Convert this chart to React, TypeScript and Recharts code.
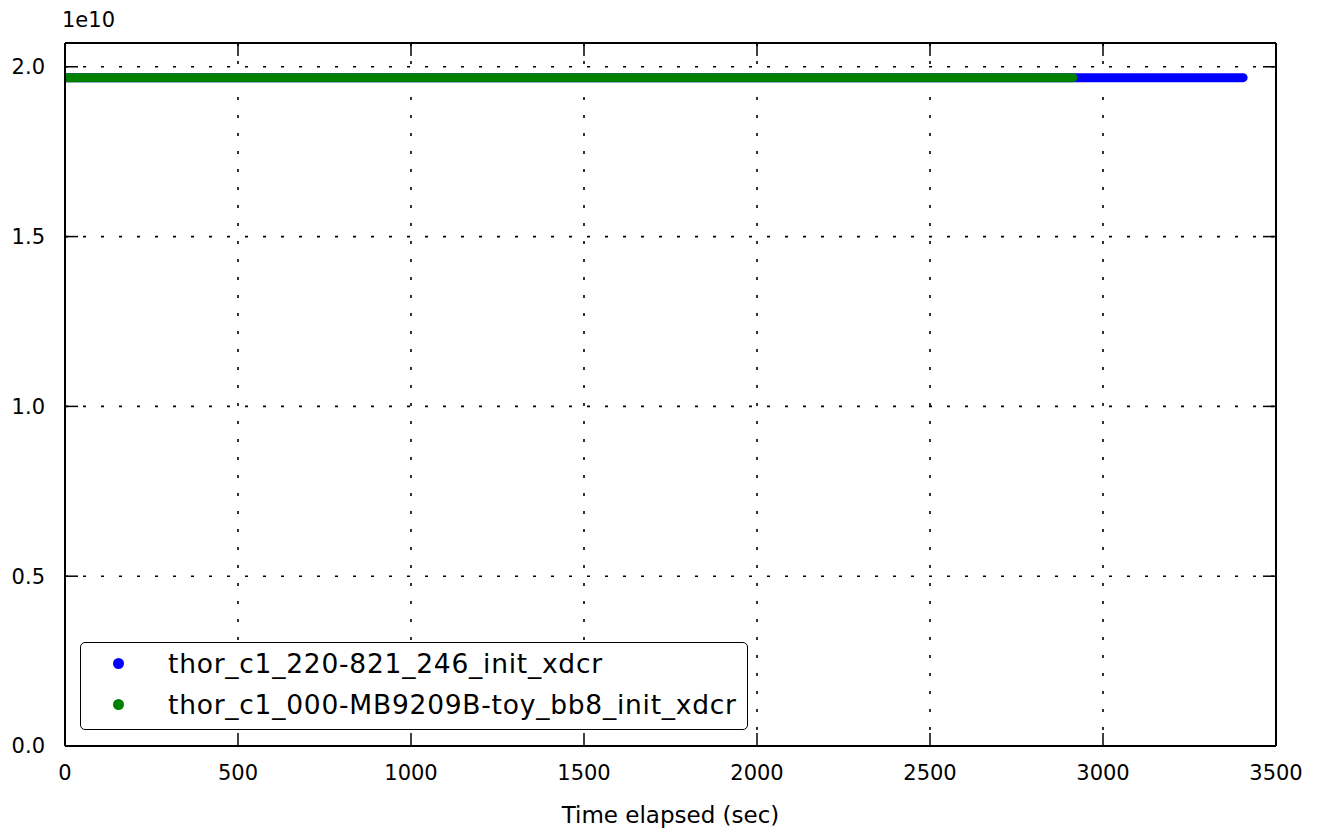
import React from "react"
import {
  LineChart,
  Line,
  XAxis,
  YAxis,
  CartesianGrid,
  Legend,
} from "recharts"

// readings taken off the plot (y in raw units, axis shows them scaled by 1e10)
const blueTime = [0, 500, 1000, 1500, 2000, 2500, 3000, 3405]
const blueValue = [1.968e10, 1.968e10, 1.968e10, 1.968e10, 1.968e10, 1.968e10, 1.968e10, 1.968e10]
const greenTime = [0, 500, 1000, 1500, 2000, 2500, 2913]
const greenValue = [1.968e10, 1.968e10, 1.968e10, 1.968e10, 1.968e10, 1.968e10, 1.968e10]

const seriesNames = ["thor_c1_220-821_246_init_xdcr", "thor_c1_000-MB9209B-toy_bb8_init_xdcr"]
const seriesColors = ["#0000ff", "#008000"]

const xTicks = [0, 500, 1000, 1500, 2000, 2500, 3000, 3500]
const yTicks = [0, 0.5e10, 1.0e10, 1.5e10, 2.0e10]

const blueData = blueTime.map((t, i) => ({ t, v: blueValue[i] }))
const greenData = greenTime.map((t, i) => ({ t, v: greenValue[i] }))

const FONT = "DejaVu Sans, sans-serif"

function renderLegend() {
  return (
    <div
      style={{
        border: "1.5px solid #000",
        borderRadius: 5,
        background: "#fff",
        padding: "0 10px 4px 32px",
        fontFamily: FONT,
        fontSize: 26.5,
        color: "#000",
        width: 668,
        boxSizing: "border-box",
      }}
    >
      {seriesNames.map((name, i) => (
        <div key={name} style={{ display: "flex", alignItems: "center", height: 41, whiteSpace: "nowrap" }}>
          <span
            style={{
              display: "inline-block",
              flexShrink: 0,
              width: 11,
              height: 11,
              borderRadius: "50%",
              background: seriesColors[i],
              marginRight: 44,
            }}
          />
          <span style={{ letterSpacing: 0.75 }}>{name}</span>
        </div>
      ))}
    </div>
  )
}

const tickStyle = { fontFamily: FONT, fontSize: 21, fill: "#000" }
const axisLine = { stroke: "#000", strokeWidth: 2 }
const tickLine = { stroke: "#000", strokeWidth: 1.5 }
const noLabel = () => <g />

export default function App() {
  return (
    <div style={{ position: "absolute", left: 0, top: 0, background: "#fff" }}>
      <LineChart width={1320} height={834} margin={{ top: 42, right: 43, bottom: 58, left: 0 }}>
        <CartesianGrid
          xAxisId="b"
          yAxisId="l"
          stroke="#000"
          strokeWidth={1.6}
          strokeDasharray="3 15"
          horizontalValues={yTicks}
          verticalValues={xTicks}
        />
        <XAxis
          xAxisId="b"
          type="number"
          dataKey="t"
          domain={[0, 3500]}
          ticks={xTicks}
          allowDataOverflow
          height={30}
          tickSize={-13}
          tickMargin={32}
          tick={tickStyle}
          axisLine={axisLine}
          tickLine={tickLine}
          label={({ viewBox }: any) => (
            <text
              x={viewBox.x + viewBox.width / 2}
              y={823}
              textAnchor="middle"
              style={{ fontFamily: FONT, fontSize: 23, fill: "#000" }}
            >
              Time elapsed (sec)
            </text>
          )}
        />
        <XAxis
          xAxisId="top"
          orientation="top"
          type="number"
          dataKey="t"
          domain={[0, 3500]}
          ticks={xTicks}
          allowDataOverflow
          height={1}
          tickSize={-13}
          tick={noLabel}
          axisLine={axisLine}
          tickLine={tickLine}
        />
        <YAxis
          yAxisId="l"
          type="number"
          domain={[0, 2.07e10]}
          ticks={yTicks}
          allowDataOverflow
          width={65}
          tickSize={-13}
          tickMargin={33}
          tick={tickStyle}
          tickFormatter={(v: number) => (v / 1e10).toFixed(1)}
          axisLine={axisLine}
          tickLine={tickLine}
          label={() => (
            <text x={62} y={27} style={{ fontFamily: FONT, fontSize: 21, fill: "#000" }}>
              1e10
            </text>
          )}
        />
        <YAxis
          yAxisId="r"
          orientation="right"
          type="number"
          domain={[0, 2.07e10]}
          ticks={yTicks}
          allowDataOverflow
          width={1}
          tickSize={-13}
          tick={noLabel}
          axisLine={axisLine}
          tickLine={tickLine}
        />
        <Line
          xAxisId="b"
          yAxisId="l"
          data={blueData}
          dataKey="v"
          name={seriesNames[0]}
          stroke={seriesColors[0]}
          strokeWidth={9}
          strokeLinecap="round"
          dot={false}
          isAnimationActive={false}
        />
        <Line
          xAxisId="b"
          yAxisId="l"
          data={greenData}
          dataKey="v"
          name={seriesNames[1]}
          stroke={seriesColors[1]}
          strokeWidth={9}
          strokeLinecap="round"
          dot={false}
          isAnimationActive={false}
        />
        <Legend
          layout="vertical"
          align="center"
          verticalAlign="middle"
          content={renderLegend}
          wrapperStyle={{ left: 80, top: 642, width: "auto" }}
        />
      </LineChart>
    </div>
  )
}
